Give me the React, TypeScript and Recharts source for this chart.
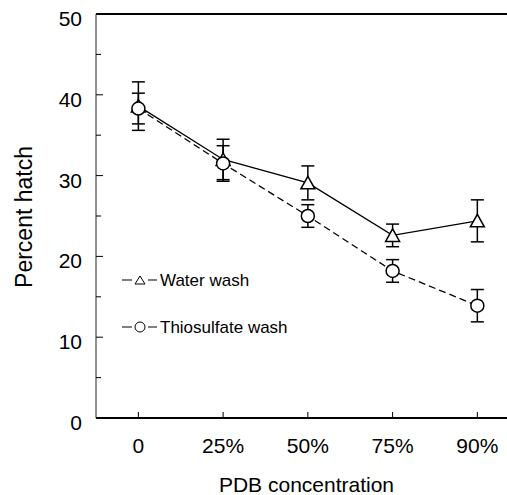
import React from 'react';
import { LineChart, Line, XAxis, YAxis, ErrorBar, ReferenceLine, Legend } from 'recharts';

const categories = ['0', '25%', '50%', '75%', '90%'];
const waterWash = [38.6, 32.0, 29.1, 22.6, 24.4];
const waterErr = [3.0, 2.5, 2.1, 1.4, 2.6];
const thioWash = [38.3, 31.5, 25.0, 18.2, 13.9];
const thioErr = [1.9, 2.2, 1.4, 1.4, 2.0];
const yTicks = [0, 5, 10, 15, 20, 25, 30, 35, 40, 45, 50];
const xTicks = [0, 1, 2, 3, 4];
const seriesNames = ['Water wash', 'Thiosulfate wash'];
const xTitle = 'PDB concentration';
const yTitle = 'Percent hatch';

const data = categories.map((c, i) => ({
  idx: i,
  cat: c,
  water: waterWash[i],
  waterErr: waterErr[i],
  thio: thioWash[i],
  thioErr: thioErr[i],
}));

const FONT = "'Liberation Sans', Arial, Helvetica, sans-serif";
const X_MARGIN = 20;
const Y_MARGIN = 14;

const XTick = (props: any) => {
  const { x, y, payload } = props;
  return (
    <g>
      <line x1={x} x2={x} y1={y - X_MARGIN} y2={y - X_MARGIN - 6} stroke="#000" strokeWidth={1} />
      <text x={x} y={y} dy="0.71em" textAnchor="middle" fontSize={21} fill="#000" fontFamily={FONT}>
        {categories[payload.value]}
      </text>
    </g>
  );
};

const YTick = (props: any) => {
  const { x, y, payload } = props;
  const v = payload.value;
  const major = v % 10 === 0;
  return (
    <g>
      <line x1={x + Y_MARGIN} x2={x + Y_MARGIN + (major ? 7 : 5)} y1={y} y2={y} stroke="#000" strokeWidth={1} />
      {major && (
        <text x={x} y={y} dy={12} textAnchor="end" fontSize={21} fill="#000" fontFamily={FONT}>
          {v}
        </text>
      )}
    </g>
  );
};

const TriangleDot = (props: any) => {
  const { cx, cy, index } = props;
  if (cx == null || cy == null) return <g key={`t${index}`} />;
  return (
    <polygon
      key={`t${index}`}
      points={`${cx - 7},${cy + 6} ${cx + 7},${cy + 6} ${cx},${cy - 6.5}`}
      fill="#fff"
      stroke="#000"
      strokeWidth={1.5}
    />
  );
};

const CircleDot = (props: any) => {
  const { cx, cy, index } = props;
  if (cx == null || cy == null) return <g key={`c${index}`} />;
  return <circle key={`c${index}`} cx={cx} cy={cy} r={6.5} fill="#fff" stroke="#000" strokeWidth={1.5} />;
};

const LegendContent = () => (
  <svg width={230} height={80} style={{ display: 'block' }}>
    {seriesNames.map((name, i) => {
      const cy = 19 + i * 47;
      return (
        <g key={name}>
          <line x1={12} x2={22} y1={cy} y2={cy} stroke="#000" strokeWidth={1} strokeDasharray={i === 1 ? undefined : undefined} />
          <line x1={38} x2={47} y1={cy} y2={cy} stroke="#000" strokeWidth={1} />
          {i === 0 ? (
            <polygon points={`25,${cy + 4} 35,${cy + 4} 30,${cy - 4}`} fill="#fff" stroke="#000" strokeWidth={1} />
          ) : (
            <circle cx={30} cy={cy} r={5} fill="#fff" stroke="#000" strokeWidth={1} />
          )}
          <text x={50} y={cy + 5.5} fontSize={17} fill="#000" fontFamily={FONT}>
            {name}
          </text>
        </g>
      );
    })}
  </svg>
);

export default function App() {
  return (
    <div style={{ position: 'absolute', left: 0, top: 0, width: 507, height: 495, background: '#fff' }}>
      <LineChart width={507} height={495} data={data} margin={{ top: 14, right: 0, bottom: 0, left: 0 }}>
        <XAxis
          dataKey="idx"
          type="number"
          domain={[-0.5, 4.35]}
          ticks={xTicks}
          allowDataOverflow
          height={77}
          tickSize={0}
          tickLine={false}
          tickMargin={X_MARGIN}
          tick={<XTick />}
          axisLine={{ stroke: '#000', strokeWidth: 2 }}
          interval={0}
          label={{
            content: (p: any) => {
              const vb = p.viewBox || { x: 96, y: 418, width: 411, height: 77 };
              return (
                <text x={vb.x + vb.width / 2 + 5} y={vb.y + 73.5} textAnchor="middle" fontSize={21} fill="#000" fontFamily={FONT}>
                  {xTitle}
                </text>
              );
            },
          }}
        />
        <YAxis
          type="number"
          domain={[0, 50]}
          ticks={yTicks}
          interval={0}
          width={96}
          tickSize={0}
          tickLine={false}
          tickMargin={Y_MARGIN}
          tick={<YTick />}
          axisLine={{ stroke: '#222', strokeWidth: 1 }}
          label={{
            content: (p: any) => {
              const vb = p.viewBox || { x: 0, y: 14, width: 96, height: 404 };
              const lx = vb.x + 31.5;
              const ly = vb.y + vb.height / 2 + 1;
              return (
                <text x={lx} y={ly} transform={`rotate(-90, ${lx}, ${ly})`} textAnchor="middle" fontSize={23} fill="#000" fontFamily={FONT}>
                  {yTitle}
                </text>
              );
            },
          }}
        />
        <ReferenceLine y={50} stroke="#000" strokeWidth={2} />
        <Legend
          layout="vertical"
          align="center"
          verticalAlign="middle"
          content={<LegendContent />}
          wrapperStyle={{ position: 'absolute', left: 110, top: 261, width: 230, height: 80 }}
        />
        <Line
          dataKey="water"
          stroke="#000"
          strokeWidth={1.3}
          dot={TriangleDot}
          activeDot={false}
          isAnimationActive={false}
          legendType="triangle"
          name={seriesNames[0]}
        >
          <ErrorBar dataKey="waterErr" direction="y" width={6.5} stroke="#000" strokeWidth={1.5} isAnimationActive={false} />
        </Line>
        <Line
          dataKey="thio"
          stroke="#000"
          strokeWidth={1.3}
          strokeDasharray="7 4"
          dot={CircleDot}
          activeDot={false}
          isAnimationActive={false}
          legendType="circle"
          name={seriesNames[1]}
        >
          <ErrorBar dataKey="thioErr" direction="y" width={6.5} stroke="#000" strokeWidth={1.5} isAnimationActive={false} />
        </Line>
      </LineChart>
    </div>
  );
}
